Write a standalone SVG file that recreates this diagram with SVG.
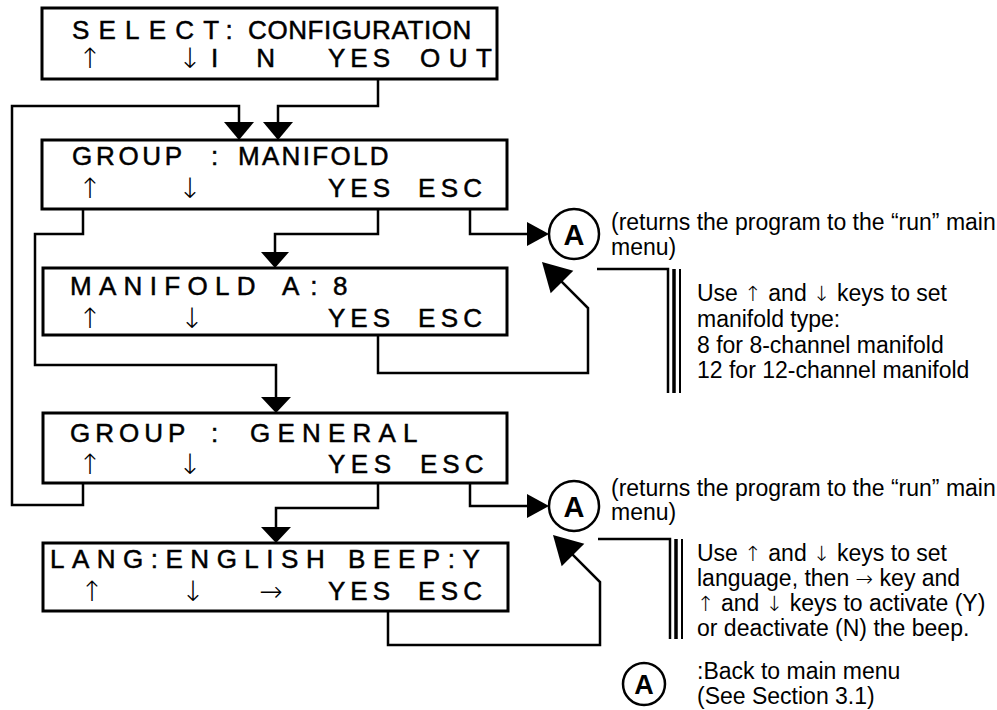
<svg xmlns="http://www.w3.org/2000/svg" width="997" height="710" viewBox="0 0 997 710">
<style>
.box{fill:#fff;stroke:#000;stroke-width:3}
.lcd{font-family:"Liberation Sans",Arial,"DejaVu Sans",sans-serif;font-size:26px;fill:#000;stroke:#000;stroke-width:0.5}
.ar{font-family:"DejaVu Sans","Liberation Sans",sans-serif;font-weight:200;font-size:28px;fill:#000;text-anchor:middle}
.wire{fill:none;stroke:#000;stroke-width:2.5;stroke-linejoin:miter;stroke-linecap:square}
.head{fill:#000;stroke:none}
.note{font-family:"Liberation Sans",Arial,"DejaVu Sans",sans-serif;font-size:23px;fill:#000}
.sym{font-family:"DejaVu Sans","Liberation Sans",sans-serif;font-weight:200;font-size:21px}
.circ{fill:#fff;stroke:#000;stroke-width:2.5}
.cA{font-family:"Liberation Sans",Arial,sans-serif;font-weight:bold;font-size:29px;text-anchor:middle;fill:#000}
</style>

<g id="connectors">
  <g class="wire">
    <path d="M378,79 V106 H278 V124"/>
    <path d="M83,483 V505 H12 V106 H239 V124"/>
    <path d="M378,209 V234 H275 V254"/>
    <path d="M83,209 V234 H35 V365 H276 V399"/>
    <path d="M470,209 V234 H529"/>
    <path d="M378,335 V373 H588 V308 L562,282"/>
    <path d="M378,483 V508 H276 V529"/>
    <path d="M470,483 V506 H529"/>
    <path d="M388,611 V645 H600 V582 L573,555"/>
  </g>
  <polygon class="head" points="263,122 293,122 278,140"/>
  <polygon class="head" points="224,122 254,122 239,140"/>
  <polygon class="head" points="261,252 289,252 275,268"/>
  <polygon class="head" points="261,397 291,397 276,413"/>
  <polygon class="head" points="527,222 527,246 549,234"/>
  <polygon class="head" points="542,262 573.3,270.7 550.7,293.3"/>
  <polygon class="head" points="261,527 291,527 276,543"/>
  <polygon class="head" points="527,494 527,518 549,506"/>
  <polygon class="head" points="553,535 584.3,543.7 561.7,566.3"/>
</g>

<g id="brackets">
  <path d="M597,269 H668 V393" fill="none" stroke="#000" stroke-width="2.5"/>
  <line x1="674" y1="269" x2="674" y2="393" stroke="#000" stroke-width="3.5"/>
  <line x1="680" y1="269" x2="680" y2="393" stroke="#000" stroke-width="2"/>
  <path d="M598,539 H670 V639" fill="none" stroke="#000" stroke-width="2.5"/>
  <line x1="676" y1="539" x2="676" y2="639" stroke="#000" stroke-width="3.5"/>
  <line x1="682" y1="539" x2="682" y2="639" stroke="#000" stroke-width="2"/>
</g>

<g id="box1">
  <rect class="box" x="42" y="8" width="455" height="71"/>
  <text class="lcd" x="72" y="39" style="letter-spacing:9.2px">SELECT:</text>
  <text class="lcd" x="248" y="39" style="letter-spacing:0.6px">CONFIGURATION</text>
  <text class="ar" x="90" y="68">↑</text>
  <text class="ar" x="190" y="68">↓</text>
  <text class="lcd" x="211" y="67" style="letter-spacing:38px">IN</text>
  <text class="lcd" x="328" y="67" style="letter-spacing:5px">YES</text>
  <text class="lcd" x="420" y="67" style="letter-spacing:8.5px">OUT</text>
</g>

<g id="box2">
  <rect class="box" x="42" y="140" width="465" height="69"/>
  <text class="lcd" x="72" y="165" style="letter-spacing:3.7px">GROUP</text>
  <text class="lcd" x="211" y="165">:</text>
  <text class="lcd" x="238" y="165" style="letter-spacing:2.3px">MANIFOLD</text>
  <text class="ar" x="90" y="198">↑</text>
  <text class="ar" x="190" y="198">↓</text>
  <text class="lcd" x="328" y="197" style="letter-spacing:5px">YES</text>
  <text class="lcd" x="418" y="197" style="letter-spacing:5.3px">ESC</text>
</g>

<g id="box3">
  <rect class="box" x="43" y="268" width="464" height="67"/>
  <text class="lcd" x="70" y="295" style="letter-spacing:7.3px">MANIFOLD</text>
  <text class="lcd" x="282" y="295" style="letter-spacing:11px">A:</text>
  <text class="lcd" x="333" y="295">8</text>
  <text class="ar" x="90" y="328">↑</text>
  <text class="ar" x="192" y="328">↓</text>
  <text class="lcd" x="328" y="327" style="letter-spacing:5px">YES</text>
  <text class="lcd" x="418" y="327" style="letter-spacing:5.3px">ESC</text>
</g>

<g id="box4">
  <rect class="box" x="43" y="413" width="464" height="70"/>
  <text class="lcd" x="70" y="442" style="letter-spacing:5px">GROUP</text>
  <text class="lcd" x="211" y="442">:</text>
  <text class="lcd" x="250" y="442" style="letter-spacing:7.2px">GENERAL</text>
  <text class="ar" x="90" y="474">↑</text>
  <text class="ar" x="190" y="474">↓</text>
  <text class="lcd" x="328" y="473" style="letter-spacing:5.5px">YES</text>
  <text class="lcd" x="420" y="473" style="letter-spacing:5px">ESC</text>
</g>

<g id="box5">
  <rect class="box" x="43" y="543" width="465" height="68"/>
  <text class="lcd" x="50" y="568" style="letter-spacing:7.5px">LANG:ENGLISH</text>
  <text class="lcd" x="348" y="568" style="letter-spacing:7.6px">BEEP:Y</text>
  <text class="ar" x="92" y="601">↑</text>
  <text class="ar" x="193" y="601">↓</text>
  <text class="ar" x="271" y="601">→</text>
  <text class="lcd" x="328" y="600" style="letter-spacing:5px">YES</text>
  <text class="lcd" x="418" y="600" style="letter-spacing:5.3px">ESC</text>
</g>

<g id="exitA1">
  <circle class="circ" cx="574" cy="234" r="25"/>
  <text class="cA" x="574" y="245">A</text>
  <text class="note" x="611" y="230">(returns the program to the “run” main</text>
  <text class="note" x="611" y="255">menu)</text>
</g>

<g id="note1">
  <text class="note" x="697" y="301">Use <tspan class="sym">↑</tspan> and <tspan class="sym">↓</tspan> keys to set</text>
  <text class="note" x="697" y="327">manifold type:</text>
  <text class="note" x="697" y="353">8 for 8-channel manifold</text>
  <text class="note" x="697" y="378">12 for 12-channel manifold</text>
</g>

<g id="exitA2">
  <circle class="circ" cx="574" cy="506" r="25"/>
  <text class="cA" x="574" y="517">A</text>
  <text class="note" x="611" y="496">(returns the program to the “run” main</text>
  <text class="note" x="611" y="520">menu)</text>
</g>

<g id="note2">
  <text class="note" x="697" y="561">Use <tspan class="sym">↑</tspan> and <tspan class="sym">↓</tspan> keys to set</text>
  <text class="note" x="697" y="586">language, then <tspan class="sym">→</tspan> key and</text>
  <text class="note" x="697" y="611"><tspan class="sym">↑</tspan> and <tspan class="sym">↓</tspan> keys to activate (Y)</text>
  <text class="note" x="697" y="636">or deactivate (N) the beep.</text>
</g>

<g id="legend">
  <circle class="circ" cx="644" cy="684" r="21"/>
  <text class="cA" x="644" y="694" style="font-size:27px">A</text>
  <text class="note" x="697" y="679">:Back to main menu</text>
  <text class="note" x="697" y="704">(See Section 3.1)</text>
</g>
</svg>
